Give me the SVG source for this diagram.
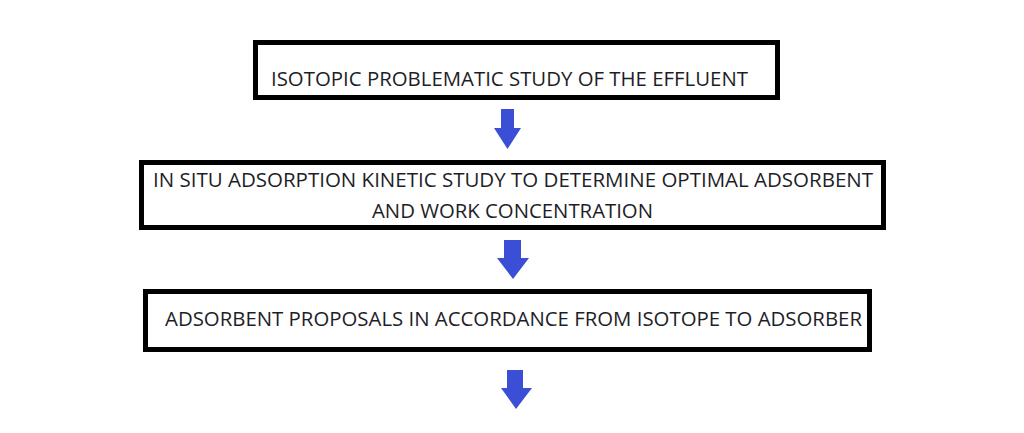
<svg xmlns="http://www.w3.org/2000/svg" width="1024" height="433" viewBox="0 0 1024 433">
<style>
.box{fill:#ffffff;stroke:#000000;stroke-width:5}
.lbl{font-family:"Open Sans","Liberation Sans",sans-serif;font-size:20px;fill:#1e1e28}
.arr{fill:#3b4fd6}
</style>
<rect width="1024" height="433" fill="#ffffff"/>
<g id="node1">
<rect class="box" x="255.5" y="42.5" width="522" height="55"/>
<text class="lbl" x="271" y="86" textLength="477" lengthAdjust="spacingAndGlyphs">ISOTOPIC PROBLEMATIC STUDY OF THE EFFLUENT</text>
</g>
<g id="node2">
<rect class="box" x="141.5" y="162.5" width="742" height="65"/>
<text class="lbl" x="153" y="186.5" textLength="720" lengthAdjust="spacingAndGlyphs">IN SITU ADSORPTION KINETIC STUDY TO DETERMINE OPTIMAL ADSORBENT</text>
<text class="lbl" x="372" y="217.5" textLength="281" lengthAdjust="spacingAndGlyphs">AND WORK CONCENTRATION</text>
</g>
<g id="node3">
<rect class="box" x="145.5" y="291.5" width="724" height="58"/>
<text class="lbl" x="165" y="325.5" textLength="697" lengthAdjust="spacingAndGlyphs">ADSORBENT PROPOSALS IN ACCORDANCE FROM ISOTOPE TO ADSORBER</text>
</g>
<g id="connectors">
<polygon class="arr" points="501,109 514,109 514,128 521,128 507.5,149 494,128 501,128"/>
<polygon class="arr" points="504,240 521,240 521,258 529,258 513,279 497,258 504,258"/>
<polygon class="arr" points="507,370 523,370 523,388 532,388 516,409 501,388 507,388"/>
</g>
</svg>
